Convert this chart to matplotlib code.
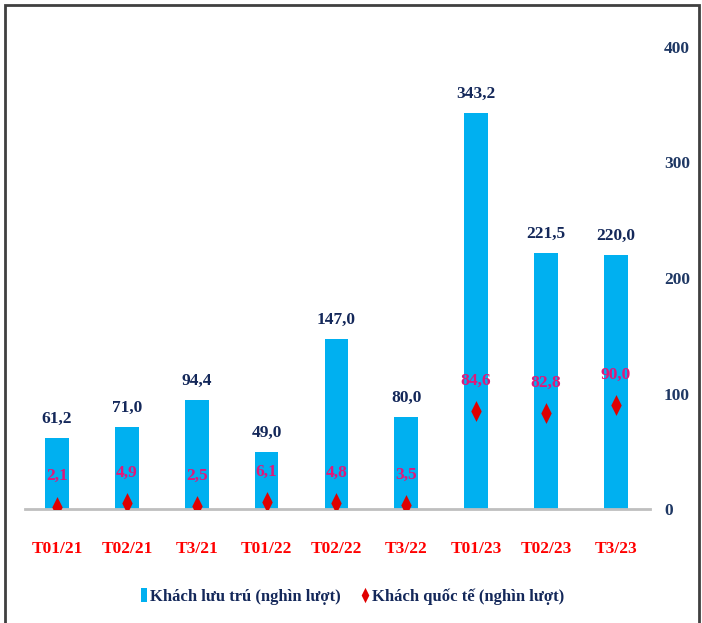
import matplotlib.pyplot as plt
from matplotlib.lines import Line2D
from matplotlib.patches import Rectangle
from matplotlib.path import Path

# data
months = ['T01/21', 'T02/21', 'T3/21', 'T01/22', 'T02/22', 'T3/22', 'T01/23', 'T02/23', 'T3/23']
luu_tru = [61.2, 71.0, 94.4, 49.0, 147.0, 80.0, 343.2, 221.5, 220.0]
quoc_te = [2.1, 4.9, 2.5, 6.1, 4.8, 3.5, 84.6, 82.8, 90.0]
yticks = [0, 100, 200, 300, 400]

BAR = '#00B0F0'
NAVY = '#14285A'
PINK = '#E0187A'
RED = '#E00000'

# thin diamond like the excel marker
DIAMOND = Path([(0, 1), (0.5, 0), (0, -1), (-0.5, 0), (0, 1)],
               [Path.MOVETO, Path.LINETO, Path.LINETO, Path.LINETO, Path.CLOSEPOLY])
# narrow upright box for the legend
BOX = Path([(-0.4, -1), (0.4, -1), (0.4, 1), (-0.4, 1), (-0.4, -1)],
           [Path.MOVETO, Path.LINETO, Path.LINETO, Path.LINETO, Path.CLOSEPOLY])


def fmt(v):
    return ('%.1f' % v).replace('.', ',')


def main():
    plt.rcParams['font.family'] = ['Liberation Serif', 'DejaVu Serif']
    plt.rcParams['font.weight'] = 'bold'

    fig = plt.figure(figsize=(7.02, 6.23), dpi=100)
    ax = fig.add_axes([25 / 702, 114 / 623, 625 / 702, 462 / 623])

    x = list(range(len(months)))
    ax.bar(x, luu_tru, width=0.34, color=BAR, zorder=2)
    ax.plot(x, quoc_te, linestyle='none', marker=DIAMOND, markersize=15,
            markeredgewidth=0, color=RED, zorder=3)

    # value labels
    for i, v in enumerate(luu_tru):
        ax.annotate(fmt(v), (i, v), xytext=(0, 8), textcoords='offset points',
                    ha='center', va='bottom', fontsize=12.5, color=NAVY,
                    fontweight='bold')
    for i, v in enumerate(quoc_te):
        ax.annotate(fmt(v), (i, v), xytext=(0, 22), textcoords='offset points',
                    ha='center', va='center', fontsize=12.5, color=PINK,
                    fontweight='bold', zorder=4)

    ax.set_xlim(-0.46, 8.49)
    ax.set_ylim(0, 400)
    ax.set_xticks(x)
    ax.set_xticklabels(months, color='#FF0000', fontsize=12.5, fontweight='bold')
    ax.set_yticks(yticks)
    ax.set_yticklabels([str(t) for t in yticks], color='#1F3864', fontsize=12.5,
                       fontweight='bold')
    ax.yaxis.tick_right()
    ax.tick_params(axis='both', length=0)
    ax.tick_params(axis='x', pad=23)
    ax.tick_params(axis='y', pad=10)

    for s in ['top', 'left', 'right']:
        ax.spines[s].set_visible(False)
    ax.spines['bottom'].set_color('#BFBFBF')
    ax.spines['bottom'].set_linewidth(2)

    handles = [
        Line2D([], [], linestyle='none', marker=BOX, markersize=10,
               markeredgewidth=0, color=BAR),
        Line2D([], [], linestyle='none', marker=DIAMOND, markersize=11,
               markeredgewidth=0, color=RED),
    ]
    labels = ['Khách lưu trú (nghìn lượt)', 'Khách quốc tế (nghìn lượt)']
    leg = fig.legend(handles, labels, loc='center', bbox_to_anchor=(352 / 702, 26 / 623),
                     ncol=2, frameon=False, fontsize=12, handlelength=0.5,
                     handletextpad=0.15, columnspacing=1.2)
    for t in leg.get_texts():
        t.set_color(NAVY)

    # outer frame
    fig.patches.append(Rectangle((5 / 702, -0.05), 694 / 702, 1.05 - 5 / 623,
                                 transform=fig.transFigure, fill=False,
                                 edgecolor='#404040', linewidth=2))

    fig.savefig('out.png', dpi=100)


if __name__ == '__main__':
    main()
